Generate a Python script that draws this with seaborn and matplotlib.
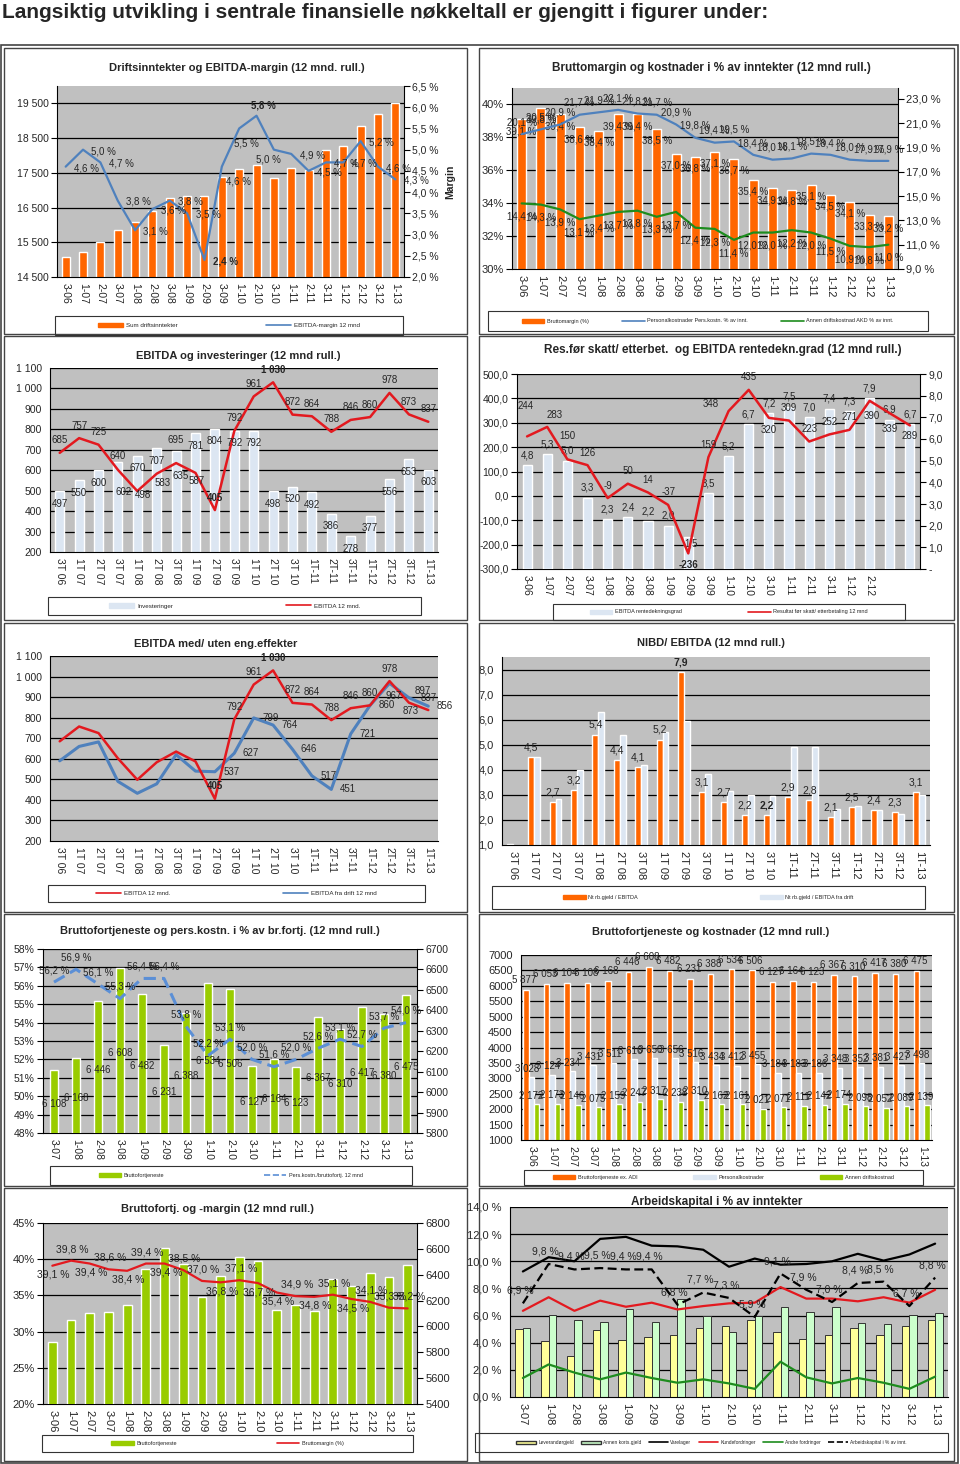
import matplotlib.pyplot as plt
from matplotlib.patches import Rectangle, Patch
from matplotlib.lines import Line2D
import numpy as np
import pandas as pd
import seaborn as sns

sns.set_style("white")
plt.rcParams["font.family"] = ["Liberation Sans", "DejaVu Sans"]

W, H = 960, 1464
GRAY = "#c0c0c0"
ORANGE = "#ff6600"
LIGHT = "#dce6f2"
LIME = "#99cc00"
BLUE = "#4f81bd"
RED = "#e3191f"
DKGREEN = "#1e8c1e"

# ---- categories ----
kv = ["3-06", "1-07", "2-07", "3-07", "1-08", "2-08", "3-08", "1-09", "2-09", "3-09",
      "1-10", "2-10", "3-10", "1-11", "2-11", "3-11", "1-12", "2-12", "3-12", "1-13"]
kv_t = ["3T 06", "1T 07", "2T 07", "3T 07", "1T 08", "2T 08", "3T 08", "1T 09", "2T 09", "3T 09",
        "1T 10", "2T 10", "3T 10", "1T-11", "2T-11", "3T-11", "1T-12", "2T-12", "3T-12", "1T-13"]
kv17 = kv[3:]
kv_res = kv[:18] + ["", ""]

# ---- data ----
driftsinntekter = [15065, 15228, 15506, 15841, 16080, 16397, 16770, 16845, 16835, 17383,
                   17613, 17728, 17345, 17651, 17584, 18149, 18274, 18839, 19203, 19510]
ebitda_margin = [4.6, 5.0, 4.7, 3.8, 3.1, 3.6, 3.8, 3.5, 2.4, 4.6,
                 5.5, 5.8, 5.0, 4.9, 4.5, 4.7, 4.7, 5.2, 4.6, 4.3]

bruttomargin = [39.1, 39.8, 39.4, 38.6, 38.4, 39.4, 39.4, 38.5, 37.0, 36.8,
                37.1, 36.7, 35.4, 34.9, 34.8, 35.1, 34.5, 34.1, 33.3, 33.2]
pers_pct = [20.1, 20.5, 20.9, 21.7, 21.9, 22.1, 21.8, 21.7, 20.9, 19.8,
            19.4, 19.5, 18.4, 18.0, 18.1, 18.5, 18.4, 18.0, 17.9, 17.9]
akd_pct = [14.4, 14.3, 13.9, 13.1, 13.4, 13.7, 13.8, 13.3, 13.7, 12.4,
           12.3, 11.4, 12.0, 12.0, 12.2, 12.0, 11.5, 10.9, 10.8, 11.0]

investeringer = [497, 550, 600, 640, 670, 707, 695, 781, 804, 792,
                 792, 498, 520, 492, 386, 278, 377, 556, 653, 603]
ebitda = [685, 757, 725, 602, 498, 583, 635, 587, 405, 792,
          961, 1030, 872, 864, 788, 846, 860, 978, 873, 837]
ebitda_drift = [590, 660, 682, 490, 432, 478, 620, 540, 537, 627,
                799, 764, 646, 517, 451, 721, 860, 967, 897, 856]

rentedekning = [4.8, 5.3, 5.0, 3.3, 2.3, 2.4, 2.2, 2.0, 1.5, 3.5,
                5.2, 6.7, 7.2, 7.5, 7.0, 7.4, 7.3, 7.9, 6.9, 6.7]
res_for_skatt = [244, 283, 150, 126, -9, 50, 14, -37, -236, 159,
                 348, 435, 320, 309, 223, 252, 271, 390, 339, 289]

nibd = [1.05, 4.5, 2.7, 3.2, 5.4, 4.4, 4.1, 5.2, 7.9, 3.1,
        2.7, 2.2, 2.2, 2.9, 2.8, 2.1, 2.5, 2.4, 2.3, 3.1]
nibd_drift = [0, 4.5, 2.85, 4.0, 6.3, 5.4, 4.2, 5.5, 5.95, 3.85,
              3.15, 3.0, 2.95, 4.9, 4.9, 2.45, 2.55, 2.4, 2.25, 3.0]

bruttofortjeneste = [5877, 6053, 6104, 6108, 6168, 6446, 6608, 6482, 6231, 6388,
                     6534, 6506, 6127, 6164, 6123, 6367, 6310, 6417, 6380, 6475]
perskost_bf = [56.2, 56.9, 56.1, 55.3, 56.4, 56.4, 53.8, 52.2, 53.1, 52.0,
               51.6, 52.0, 52.6, 53.1, 52.7, 53.7, 54.0]
personalkost = [3028, 3124, 3234, 3431, 3511, 3616, 3650, 3656, 3516, 3434,
                3412, 3455, 3184, 3183, 3186, 3348, 3352, 3381, 3427, 3498]
annen_drift = [2172, 2173, 2146, 2075, 2159, 2247, 2317, 2238, 2310, 2162,
               2161, 2021, 2071, 2111, 2142, 2174, 2098, 2052, 2089, 2139]
bm_side = [-1, 1, -1, 1, -1, 1, -1, 1, 1, -1, 1, -1, -1, 1, -1, 1, -1, 1, 1, 1]

leverandor = [5.0, 4.15, 3.0, 4.95, 4.2, 4.45, 4.55, 5.05, 5.25, 5.65, 4.8, 4.3, 4.55, 5.05, 4.55, 5.2, 5.65]
annen_kort = [5.1, 6.05, 5.7, 5.5, 6.5, 5.5, 7.25, 6.0, 4.8, 6.0, 6.6, 6.3, 6.65, 5.45, 5.4, 6.05, 6.2]
varelager = [9.25, 10.3, 10.0, 11.65, 11.8, 11.15, 11.1, 10.85, 9.6, 10.2, 9.75, 9.8, 10.0, 10.55, 10.05, 10.5, 11.3]
kundefordr = [6.35, 7.35, 6.35, 7.1, 6.65, 6.95, 6.45, 6.7, 6.9, 6.95, 8.1, 7.25, 7.25, 7.05, 7.35, 6.95, 7.9]
andre_fordr = [1.4, 2.4, 1.8, 1.3, 1.8, 1.4, 1.05, 1.3, 1.0, 0.6, 2.6, 1.45, 1.0, 1.4, 1.05, 0.6, 1.5]
arbeidskap = [6.9, 9.8, 9.4, 9.5, 9.4, 9.4, 6.8, 7.7, 7.3, 5.9, 9.1, 7.9, 7.0, 8.4, 8.5, 6.7, 8.8]


def komma(v, d=1):
    return f"{v:.{d}f}".replace(".", ",")


def pct(v):
    return komma(v) + " %"


def tusen(v):
    return f"{v:,.0f}".replace(",", " ")


fig = plt.figure(figsize=(W / 100, H / 100), dpi=100)


def rect(x0, y0, x1, y1):
    return [x0 / W, 1 - y1 / H, (x1 - x0) / W, (y1 - y0) / H]


def frame(x0, y0, x1, y1, lw=1.0, color="#444444"):
    fig.add_artist(Rectangle((x0 / W, 1 - y1 / H), (x1 - x0) / W, (y1 - y0) / H,
                             transform=fig.transFigure, fill=False, ec=color, lw=lw))


def new_ax(box):
    ax = fig.add_axes(rect(*box))
    ax.set_facecolor(GRAY)
    return ax


def style_x(ax, cats, fs=7.5):
    n = len(cats)
    ax.set_xlim(-0.5, n - 0.5)
    ax.set_xticks(range(n))
    ax.set_xticklabels(cats, rotation=-90, fontsize=fs)
    ax.set_xticks(np.arange(n + 1) - 0.5, minor=True)
    ax.tick_params(axis="x", which="major", length=0, pad=4)
    ax.tick_params(axis="x", which="minor", length=4, color="black", width=0.8)
    ax.set_xlabel("")


def style_y(ax, lim, ticks, fmt, side="left", grid=True, fs=7.5):
    ax.set_ylim(*lim)
    ax.set_yticks(ticks)
    ax.set_yticklabels([fmt(t) for t in ticks], fontsize=fs)
    ax.tick_params(axis="y", length=4, color="black", width=0.8, pad=2)
    ax.set_ylabel("")
    for s in ax.spines.values():
        s.set_visible(False)
    ax.spines[side].set_visible(True)
    ax.spines[side].set_color("black")
    if side == "left":
        ax.spines["bottom"].set_visible(True)
        ax.spines["bottom"].set_color("black")
    if grid:
        for g in ticks[1:]:
            ax.axhline(g, color="black", lw=0.9, zorder=0.5)


def twin(ax, lim, hide=True):
    t = ax.twinx()
    t.set_ylim(*lim)
    if hide:
        t.set_yticks([])
        for s in t.spines.values():
            s.set_visible(False)
    return t


def title(x, y, text, fs=8):
    fig.text(x / W, 1 - y / H, text, ha="center", va="center", fontsize=fs, fontweight="bold")


def put(ax, xs, ys, texts, dx=0, dy=8, moves=None, bold=(), skip=(), fs=7):
    moves = moves or {}
    for i, (x, y, t) in enumerate(zip(xs, ys, texts)):
        if i in skip:
            continue
        ox, oy = moves.get(i, (dx, dy))
        ax.annotate(t, (x, y), xytext=(ox, oy), textcoords="offset points",
                    ha="center", va="center", fontsize=fs, zorder=6,
                    fontweight="bold" if i in bold else "normal", annotation_clip=False)


def bar_x(ax, k=0):
    return [p.get_x() + p.get_width() / 2 for p in ax.containers[k]]


def legend_box(box, handles, labels, fs=4.5, cs=8):
    x0, y0, x1, y1 = box
    frame(x0, y0, x1, y1, lw=0.8, color="#333333")
    fig.legend(handles, labels, loc="center", ncol=len(labels),
               bbox_to_anchor=((x0 + x1) / 2 / W, 1 - (y0 + y1) / 2 / H),
               frameon=False, fontsize=fs, handlelength=4, columnspacing=cs,
               handletextpad=0.5, borderpad=0)


def bars(ax, vals, color, width, **kw):
    sns.barplot(x=np.arange(len(vals)), y=vals, color=color, saturation=1, width=width,
                errorbar=None, ax=ax, **kw)


def grouped(ax, series, names, colors, width, **kw):
    n = len(series[0])
    df = pd.DataFrame({"pos": np.tile(np.arange(n), len(series)),
                       "serie": np.repeat(names, n),
                       "verdi": np.concatenate([np.asarray(s, float) for s in series])})
    sns.barplot(data=df, x="pos", y="verdi", hue="serie", hue_order=names, palette=colors,
                width=width, gap=0, saturation=1, errorbar=None, legend=False, ax=ax, **kw)


def line(ax, vals, color, lw=1.6, **kw):
    sns.lineplot(x=np.arange(len(vals)), y=vals, color=color, lw=lw, ax=ax, legend=False, **kw)


fig.text(2 / W, 1 - 12 / H,
         "Langsiktig utvikling i sentrale finansielle nøkkeltall er gjengitt i figurer under:",
         ha="left", va="center", fontsize=15, fontweight="bold")

# frames
frame(1, 45, 958, 1463, lw=1.2)
for (y0, y1) in [(48, 334), (336, 620), (623, 912), (914, 1186), (1188, 1461)]:
    frame(4, y0, 467, y1)
    frame(479, y0, 954, y1)

# ---- 1: Driftsinntekter og EBITDA-margin ----
ax = new_ax((57, 86, 404, 277))
bars(ax, driftsinntekter, ORANGE, 0.46)
t2 = twin(ax, (2.0, 6.5), hide=False)
line(t2, ebitda_margin, BLUE, lw=1.6)
style_y(ax, (14500, 20000), list(range(14500, 20000, 1000)), tusen)
style_y(t2, (2.0, 6.5), list(np.arange(2.0, 6.51, 0.5)), pct, side="right", grid=False)
style_x(ax, kv)
put(t2, range(20), ebitda_margin, [pct(v) for v in ebitda_margin], dx=15, dy=-1,
    moves={9: (12, -10.5), 10: (5, -11), 11: (5, 7), 12: (-4, -7)}, bold=(8, 11))
fig.text(450 / W, 1 - 182 / H, "Margin", rotation=90, ha="center", va="center",
         fontsize=7.5, fontweight="bold")
title(237, 68, "Driftsinntekter og EBITDA-margin (12 mnd. rull.)")
legend_box((55, 316, 403, 335),
           [Patch(color=ORANGE), Line2D([], [], color=BLUE, lw=1.2)],
           ["Sum driftsinntekter", "EBITDA-margin 12 mnd"], cs=14)

# ---- 2: Bruttomargin og kostnader ----
ax = new_ax((512, 88, 898, 269))
bars(ax, bruttomargin, ORANGE, 0.47)
t2 = twin(ax, (9, 23.9), hide=False)
line(t2, pers_pct, BLUE, lw=1.6)
line(t2, akd_pct, DKGREEN, lw=1.6)
style_y(ax, (30, 41), [30, 32, 34, 36, 38, 40], lambda v: f"{v:.0f}%", fs=8)
style_y(t2, (9, 23.9), [9, 11, 13, 15, 17, 19, 21, 23], pct, side="right", grid=False, fs=8)
style_x(ax, kv, fs=8)
put(ax, bar_x(ax), bruttomargin, [pct(v) for v in bruttomargin], dy=-8.5)
put(t2, range(20), pers_pct, [pct(v) for v in pers_pct], dy=8.5)
put(t2, range(20), akd_pct, [pct(v) for v in akd_pct], dy=-9.5)
title(711, 68, "Bruttomargin og kostnader i % av inntekter (12 mnd rull.)", fs=8.5)
legend_box((488, 311, 928, 331),
           [Patch(color=ORANGE), Line2D([], [], color=BLUE, lw=1.2), Line2D([], [], color=DKGREEN, lw=1.2)],
           ["Bruttomargin (%)", "Personalkostnader Pers.kostn. % av innt.",
            "Annen driftskostnad AKD % av innt."], fs=4, cs=6)

# ---- 3: EBITDA og investeringer ----
ax = new_ax((50, 368, 438, 552))
bars(ax, investeringer, LIGHT, 0.46)
line(ax, ebitda, RED, lw=1.8)
style_y(ax, (200, 1100), list(range(200, 1101, 100)), tusen)
style_x(ax, kv_t)
put(ax, bar_x(ax), investeringer, [tusen(v) for v in investeringer], dy=-9,
    moves={3: (0, 4), 6: (0, 8)})
put(ax, range(20), ebitda, [tusen(v) for v in ebitda], dy=9,
    moves={3: (4, -16), 4: (4, -3), 5: (4, -7), 6: (3, -9), 7: (1, -6)}, bold=(8, 11))
title(238, 356, "EBITDA og investeringer (12 mnd rull.)")
legend_box((48, 597, 421, 615),
           [Patch(color=LIGHT), Line2D([], [], color=RED, lw=1.2)],
           ["Investeringer", "EBITDA 12 mnd."], cs=18)

# ---- 4: Resultat før skatt og rentedekningsgrad ----
ax = new_ax((517, 374, 920, 569))
t2 = twin(ax, (0, 9), hide=False)
bars(t2, rentedekning, LIGHT, 0.45)
t3 = twin(ax, (-300, 500))
line(t3, res_for_skatt, RED, lw=1.8)
style_y(ax, (-300, 500), list(range(-300, 501, 100)), lambda v: komma(v))
style_y(t2, (0, 9), list(range(0, 10)), lambda v: "-" if v == 0 else komma(v), side="right", grid=False)
style_x(ax, kv_res)
put(t2, bar_x(t2), rentedekning, [komma(v) for v in rentedekning], dy=7, moves={8: (2, -5)})
put(t3, range(20), res_for_skatt, [tusen(v) for v in res_for_skatt], dy=9,
    moves={0: (-1, 22), 1: (5, 8.5), 2: (0, 16.5), 8: (0, -8), 10: (-12.5, 5),
           12: (0, -9), 17: (1.5, -11), 18: (0, -11.5), 19: (0, -7.5)}, bold=(8,))
title(723, 350, "Res.før skatt/ etterbet.  og EBITDA rentedekn.grad (12 mnd rull.)", fs=8.5)
legend_box((553, 604, 905, 620),
           [Patch(color=LIGHT), Line2D([], [], color=RED, lw=1.2)],
           ["EBITDA rentedekningsgrad", "Resultat før skatt/ etterbetaling 12 mnd"], fs=4, cs=12)

# ---- 5: EBITDA med/uten eng.effekter ----
ax = new_ax((50, 656, 438, 841))
line(ax, ebitda_drift, "#4f81bd", lw=2.2)
line(ax, ebitda, RED, lw=1.8)
style_y(ax, (200, 1100), list(range(200, 1101, 100)), tusen)
style_x(ax, kv_t)
first = tuple(range(8))
put(ax, range(20), ebitda, [tusen(v) for v in ebitda], dy=9,
    moves={18: (1.5, -6)}, bold=(8, 11), skip=first)
put(ax, range(20), ebitda_drift, [tusen(v) for v in ebitda_drift], dx=12, dy=0,
    moves={17: (3, -9), 18: (10, 5)}, skip=first)
title(216, 644, "EBITDA med/ uten eng.effekter")
legend_box((48, 885, 425, 902),
           [Line2D([], [], color=RED, lw=1.2), Line2D([], [], color=BLUE, lw=1.2)],
           ["EBITDA 12 mnd.", "EBITDA fra drift 12 mnd"], cs=18)

# ---- 6: NIBD / EBITDA ----
ax = new_ax((502, 657, 930, 845))
grouped(ax, [nibd, nibd_drift], ["Nt rb.gjeld / EBITDA", "Nt rb.gjeld / EBITDA fra drift"],
        [ORANGE, LIGHT], 0.56)
style_y(ax, (1, 8.5), [1, 2, 3, 4, 5, 6, 7, 8], lambda v: komma(v), fs=8)
style_x(ax, kv_t, fs=8)
put(ax, bar_x(ax, 0), nibd, [komma(v) for v in nibd], dy=7, skip=(0,), bold=(8, 12), fs=7.5)
title(711, 643, "NIBD/ EBITDA (12 mnd rull.)")
legend_box((492, 886, 925, 909),
           [Patch(color=ORANGE), Patch(color=LIGHT)],
           ["Nt rb.gjeld / EBITDA", "Nt rb.gjeld / EBITDA fra drift"], fs=4, cs=22)

# ---- 7: Bruttofortjeneste og pers.kostn. ----
brutto17 = bruttofortjeneste[3:]
ax = new_ax((43, 949, 417, 1133))
t2 = twin(ax, (5800, 6700), hide=False)
bars(t2, brutto17, LIME, 0.4)
t3 = twin(ax, (48, 58))
line(t3, perskost_bf, "#5b8fd6", lw=2.2, linestyle=(0, (4, 2)))
style_y(ax, (48, 58), list(range(48, 59)), lambda v: f"{v:.0f}%")
style_y(t2, (5800, 6700), list(range(5800, 6701, 100)), lambda v: f"{v:.0f}", side="right", grid=False)
style_x(ax, kv17)
put(t2, bar_x(t2), [(5800 + v) / 2 for v in brutto17], [tusen(v) for v in brutto17], dy=-2)
put(t3, range(17), perskost_bf, [pct(v) for v in perskost_bf], dy=8.5)
title(220, 931, "Bruttofortjeneste og pers.kostn. i % av br.fortj. (12 mnd rull.)")
legend_box((50, 1166, 412, 1185),
           [Patch(color=LIME), Line2D([], [], color="#5b8fd6", lw=1.2, linestyle="--")],
           ["Bruttofortjeneste", "Pers.kostn./bruttofortj. 12 mnd"], fs=4, cs=18)

# ---- 8: Bruttofortjeneste og kostnader ----
ax = new_ax((521, 955, 932, 1140))
grouped(ax, [bruttofortjeneste, personalkost, annen_drift],
        ["Bruttofortjeneste ex. ADI", "Personalkostnader", "Annen driftskostnad"],
        [ORANGE, LIGHT, LIME], 0.8)
style_y(ax, (1000, 7000), list(range(1000, 7001, 500)), lambda v: f"{v:.0f}", fs=8)
style_x(ax, kv)
put(ax, bar_x(ax, 0), bruttofortjeneste, [tusen(v) for v in bruttofortjeneste], dx=-1, dy=7)
put(ax, bar_x(ax, 1), personalkost, [tusen(v) for v in personalkost], dx=-3, dy=6)
put(ax, bar_x(ax, 2), annen_drift, [tusen(v) for v in annen_drift], dx=-4, dy=6)
title(711, 932, "Bruttofortjeneste og kostnader (12 mnd rull.)")
legend_box((524, 1170, 923, 1185),
           [Patch(color=ORANGE), Patch(color=LIGHT), Patch(color=LIME)],
           ["Bruttofortjeneste ex. ADI", "Personalkostnader", "Annen driftskostnad"], fs=4, cs=10)

# ---- 9: Bruttofortj. og -margin ----
ax = new_ax((43, 1223, 417, 1404))
t2 = twin(ax, (5400, 6800), hide=False)
bars(t2, bruttofortjeneste, LIME, 0.47)
t3 = twin(ax, (20, 45))
line(t3, bruttomargin, RED, lw=1.6)
style_y(ax, (20, 45), [20, 25, 30, 35, 40, 45], lambda v: f"{v:.0f}%", fs=8)
style_y(t2, (5400, 6800), list(range(5400, 6801, 200)), lambda v: f"{v:.0f}", side="right", grid=False, fs=8)
style_x(ax, kv, fs=8)
put(t3, range(20), bruttomargin, [pct(v) for v in bruttomargin],
    moves={i: ((1, 8.3) if s > 0 else (1, -6.5)) for i, s in enumerate(bm_side)}, fs=7.5)
title(217, 1209, "Bruttofortj. og -margin (12 mnd rull.)")
legend_box((42, 1435, 413, 1452),
           [Patch(color=LIME), Line2D([], [], color=RED, lw=1.2)],
           ["Bruttofortjeneste", "Bruttomargin (%)"], fs=4, cs=18)

# ---- 10: Arbeidskapital ----
ax = new_ax((510, 1207, 948, 1397))
grouped(ax, [leverandor, annen_kort], ["Leverandørgjeld", "Annen korts.gjeld"],
        ["#ffff99", "#ccffcc"], 0.58, edgecolor="#333333", linewidth=0.7)
line(ax, varelager, "black", lw=1.6)
line(ax, kundefordr, RED, lw=1.6)
line(ax, andre_fordr, DKGREEN, lw=1.6)
line(ax, arbeidskap, "black", lw=1.6, linestyle=(0, (4, 2)))
style_y(ax, (0, 14), list(range(0, 15, 2)), pct, fs=8)
style_x(ax, kv17, fs=8)
put(ax, range(17), arbeidskap, [pct(v) for v in arbeidskap], dx=-2, dy=9, fs=7.5)
title(717, 1202, "Arbeidskapital i % av inntekter", fs=8.5)
legend_box((475, 1433, 948, 1452),
           [Patch(facecolor="#ffff99", edgecolor="#333333"), Patch(facecolor="#ccffcc", edgecolor="#333333"),
            Line2D([], [], color="black", lw=1.2), Line2D([], [], color=RED, lw=1.2),
            Line2D([], [], color=DKGREEN, lw=1.2), Line2D([], [], color="black", lw=1.2, linestyle="--")],
           ["Leverandørgjeld", "Annen korts.gjeld", "Varelager", "Kundefordringer",
            "Andre fordringer", "Arbeidskapital i % av innt."], fs=3.5, cs=1.5)

fig.savefig("out.png", dpi=100)
